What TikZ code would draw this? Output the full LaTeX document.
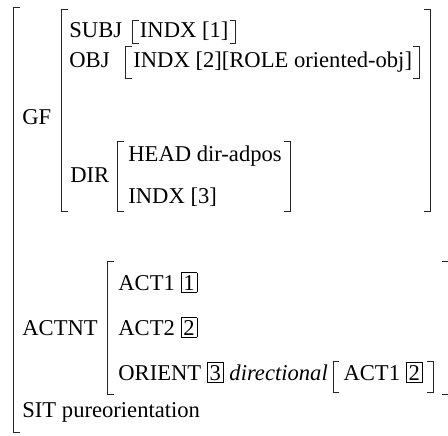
\documentclass[tikz,border=0pt]{standalone}
\usepackage{fontspec}
\setmainfont{Liberation Serif}
\usetikzlibrary{fit}
\setlength{\fboxsep}{1pt}
\setlength{\fboxrule}{0.4pt}

\begin{document}
\begin{tikzpicture}[x=0.5pt, y=-0.5pt, every node/.style={font=\fontsize{11.3}{13}\selectfont, inner sep=0pt, anchor=base west}, frame/.style={fit={#1}, inner sep=0pt, anchor=center}, grp/.style={inner xsep=3.5pt, inner ysep=0pt}, brk/.style={line width=0.5pt, black!85}]
	\useasboundingbox (0,0) rectangle (448,435);
	% frames of the feature structure
	\node[frame={(14,8) (448,432)}] (avm) {};
	\node[frame={(62,10) (430,211)}] (gfbox) {};
	\node[frame={(118,142) (290,211)}] (dirbox) {};
	\node[frame={(108,262) (448,394)}] (actbox) {};
	% GF part
	\node (gf) at (22,124) {GF};
	\node (subj) at (69,37) {SUBJ};
	\node[grp, text height=8pt, text depth=3pt] (subjv) at ([xshift=5pt]subj.base east) {INDX [1]};
	\node (obj) at (69,67) {OBJ};
	\node[grp, text height=10pt, text depth=5.5pt] (objv) at ([xshift=8pt]obj.base east) {INDX [2][ROLE oriented-obj]};
	\node (dir) at (70,182) {DIR};
	\node (head) at (128,161) {HEAD dir-adpos};
	\node (dindx) at (128,203) {INDX [3]};
	% ACTNT part
	\node (actnt) at (22,335) {ACTNT};
	\node (act1) at (118,290) {ACT1 \fbox{1}};
	\node (act2) at (118,335) {ACT2 \fbox{2}};
	\node (orient) at (118,380) {ORIENT \fbox{3} \textit{directional}};
	\node[grp, inner xsep=5pt, text height=9pt, text depth=6pt] (orientv) at ([xshift=2.5pt]orient.base east) {ACT1 \fbox{2}};
	\node (sit) at (22,417) {SIT pureorientation};
	% brackets
	\foreach \n in {avm, gfbox, dirbox, actbox, subjv, objv, orientv} {\draw[brk] ([xshift=3pt]\n.north west) -| (\n.south west) -- ++(6,0);}
	\foreach \n in {gfbox, dirbox, subjv, objv, orientv} {\draw[brk] ([xshift=-3pt]\n.north east) -| (\n.south east) -- ++(-6,0);}
	\draw[brk] ([xshift=-3pt]actbox.north east) -- (actbox.north east) ([xshift=-3pt]actbox.south east) -- (actbox.south east);
\end{tikzpicture}
\end{document}
